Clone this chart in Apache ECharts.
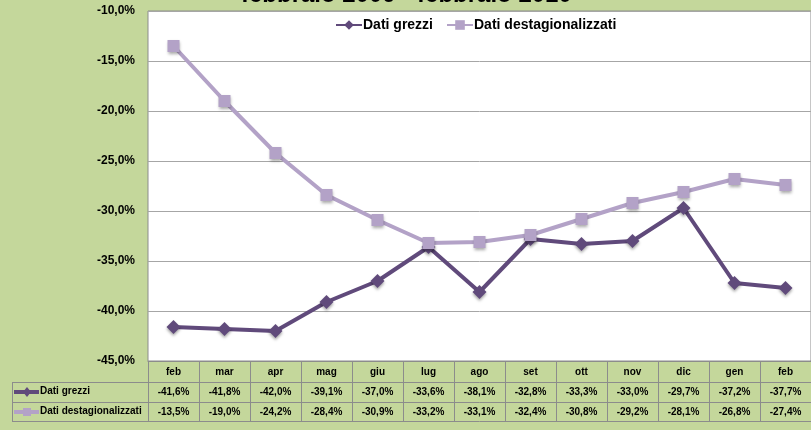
<!DOCTYPE html>
<html>
<head>
<meta charset="utf-8">
<title>Dati grezzi / destagionalizzati</title>
<script src="https://cdn.jsdelivr.net/npm/echarts@6/dist/echarts.min.js"></script>
<style>
  html, body { margin: 0; padding: 0; background: #c4d79b; }
  #chart { width: 811px; height: 430px; }
</style>
</head>
<body>
<div id="chart"></div>
<script>
// dati
var mesi = ['feb', 'mar', 'apr', 'mag', 'giu', 'lug', 'ago', 'set', 'ott', 'nov', 'dic', 'gen', 'feb'];
var datiGrezzi = [-41.6, -41.8, -42.0, -39.1, -37.0, -33.6, -38.1, -32.8, -33.3, -33.0, -29.7, -37.2, -37.7];
var datiDest = [-13.5, -19.0, -24.2, -28.4, -30.9, -33.2, -33.1, -32.4, -30.8, -29.2, -28.1, -26.8, -27.4];

var FONT = "'Liberation Sans', Arial, sans-serif";
var SCURO = '#604a7b';
var CHIARO = '#b3a2c7';
var BORDO = '#8c8c8c';

// -41.6 -> "-41,6%"
function perc(v) {
  return v.toFixed(1).replace('.', ',') + '%';
}

// asse "riga di tabella" sotto il grafico
function rigaTabella(dati, offset, lung, margine) {
  return {
    type: 'category',
    gridIndex: 0,
    position: 'bottom',
    offset: offset,
    data: dati,
    boundaryGap: true,
    axisLine: { show: true, lineStyle: { color: BORDO, width: 1 } },
    axisTick: { show: lung > 0, interval: 0, length: lung, lineStyle: { color: BORDO } },
    axisLabel: {
      show: true, interval: 0, margin: margine,
      fontFamily: FONT, fontSize: 10, fontWeight: 'bold', color: '#000'
    },
    splitLine: { show: false }
  };
}

var myChart = echarts.init(document.getElementById('chart'));

var testoLegenda = { fontFamily: FONT, fontSize: 14, fontWeight: 'bold', color: '#000', padding: [0, 0, 0, -4] };

var option = {
  backgroundColor: '#c4d79b',
  animation: false,
  title: {
    text: 'febbraio 2009 - febbraio 2010',
    left: 241,
    top: -17,
    padding: 0,
    textStyle: { fontFamily: FONT, fontSize: 24, fontWeight: 'bold', color: '#000' }
  },
  legend: {
    left: 335,
    top: 18,
    padding: 0,
    itemWidth: 26,
    itemHeight: 12,
    itemGap: 13,
    textStyle: testoLegenda,
    data: [
      { name: 'Dati grezzi', textStyle: testoLegenda },
      { name: 'Dati destagionalizzati', textStyle: testoLegenda }
    ]
  },
  grid: {
    left: 148,
    top: 11,
    right: -13,
    bottom: 69,
    show: true,
    backgroundColor: '#fff',
    borderColor: BORDO,
    borderWidth: 1,
    containLabel: false
  },
  xAxis: [
    rigaTabella(mesi, 0, 21, 6),
    rigaTabella(datiGrezzi.map(perc), 21, 20, 5),
    rigaTabella(datiDest.map(perc), 41, 19, 5),
    {
      type: 'category', gridIndex: 0, position: 'bottom', offset: 60, data: mesi,
      axisLine: { show: true, lineStyle: { color: BORDO, width: 1 } },
      axisTick: { show: false }, axisLabel: { show: false }, splitLine: { show: false }
    }
  ],
  yAxis: {
    type: 'value',
    min: -45,
    max: -10,
    interval: 5,
    axisLine: { show: false },
    axisTick: { show: false },
    axisLabel: {
      margin: 13,
      fontFamily: FONT, fontSize: 12, fontWeight: 'bold', color: '#000',
      formatter: perc
    },
    splitLine: { lineStyle: { color: '#a6a6a6', width: 1 } }
  },
  series: [
    {
      name: 'Dati grezzi',
      type: 'line',
      data: datiGrezzi,
      symbol: 'diamond',
      symbolSize: 14,
      lineStyle: { color: SCURO, width: 4 },
      itemStyle: {
        color: SCURO,
        shadowColor: 'rgba(0,0,0,0.35)', shadowBlur: 3, shadowOffsetY: 2
      }
    },
    {
      name: 'Dati destagionalizzati',
      type: 'line',
      data: datiDest,
      symbol: 'rect',
      symbolSize: 12,
      lineStyle: { color: CHIARO, width: 4 },
      itemStyle: {
        color: CHIARO,
        shadowColor: 'rgba(0,0,0,0.35)', shadowBlur: 3, shadowOffsetY: 2
      }
    }
  ],
  // colonna delle etichette della tabella
  graphic: [
    { type: 'line', shape: { x1: 12, y1: 382.5, x2: 148, y2: 382.5 }, style: { stroke: BORDO, lineWidth: 1 } },
    { type: 'line', shape: { x1: 12, y1: 402.5, x2: 148, y2: 402.5 }, style: { stroke: BORDO, lineWidth: 1 } },
    { type: 'line', shape: { x1: 12, y1: 421.5, x2: 148, y2: 421.5 }, style: { stroke: BORDO, lineWidth: 1 } },
    { type: 'line', shape: { x1: 12.5, y1: 382.5, x2: 12.5, y2: 421.5 }, style: { stroke: BORDO, lineWidth: 1 } },
    { type: 'line', shape: { x1: 14, y1: 392, x2: 39, y2: 392 }, style: { stroke: SCURO, lineWidth: 4 } },
    { type: 'polygon', shape: { points: [[27, 387], [31, 392], [27, 397], [23, 392]] }, style: { fill: SCURO } },
    { type: 'line', shape: { x1: 14, y1: 412, x2: 39, y2: 412 }, style: { stroke: CHIARO, lineWidth: 4 } },
    { type: 'rect', shape: { x: 23, y: 408, width: 8, height: 8 }, style: { fill: CHIARO } },
    { type: 'text', left: 40, top: 386, style: { text: 'Dati grezzi', font: 'bold 10px ' + FONT, fill: '#000' } },
    { type: 'text', left: 40, top: 406, style: { text: 'Dati destagionalizzati', font: 'bold 10px ' + FONT, fill: '#000' } }
  ]
};

myChart.setOption(option, true);
window.addEventListener('resize', function () { myChart.resize(); });
</script>
</body>
</html>
